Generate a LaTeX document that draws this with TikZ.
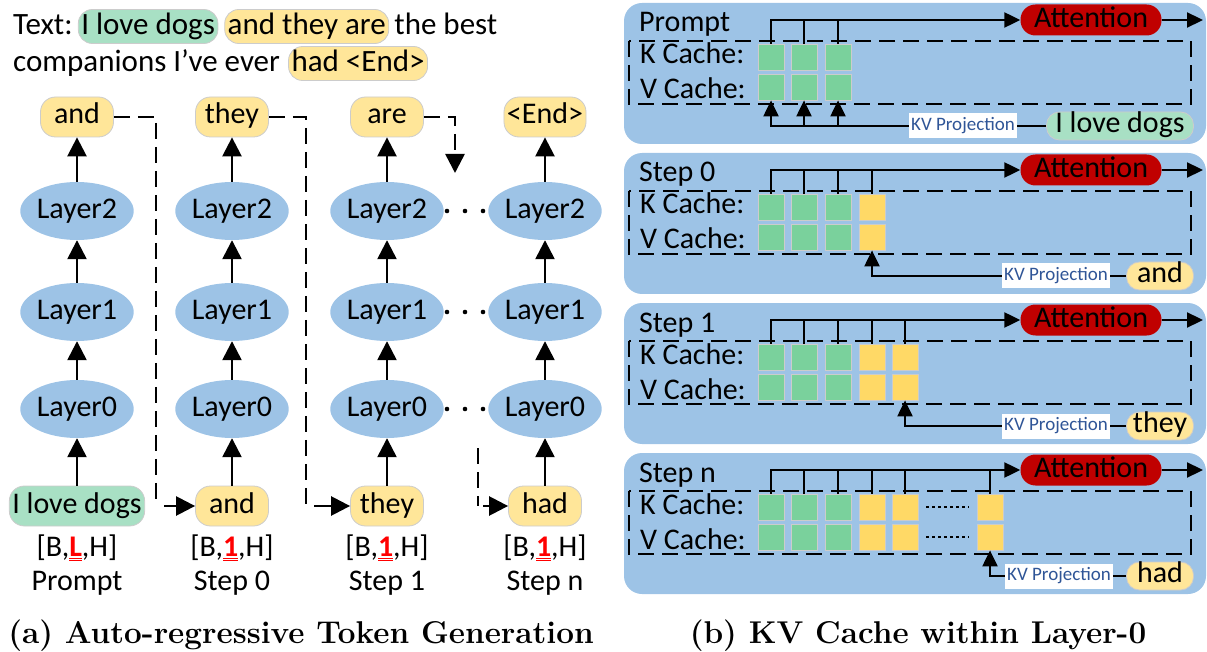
\documentclass[tikz,border=0pt]{standalone}
\usepackage{fontspec}
\newfontfamily\carlito{Carlito}
\usepackage{xcolor}
\usepackage{tikz}
\usetikzlibrary{arrows.meta, positioning, shapes.geometric}

\definecolor{layerblue}{RGB}{157,195,230}
\definecolor{tokyellow}{RGB}{255,230,153}
\definecolor{tokgreen}{RGB}{168,224,196}
\definecolor{sqgreen}{RGB}{122,209,156}
\definecolor{sqyellow}{RGB}{255,217,102}
\definecolor{attred}{RGB}{192,0,0}
\definecolor{kvblue}{RGB}{47,85,151}

\newcommand\redmark[1]{\textcolor{red}{\underline{\underline{\textbf{#1}}}}}

\begin{document}
\begin{tikzpicture}[
    x=1pt, y=-1pt,
    font=\carlito\fontsize{30}{36}\selectfont,
    txtline/.style={inner sep=0pt, font=\carlito\fontsize{31}{37}\selectfont},
    hl/.style={txtline, draw=black!20, line width=0.8pt, fill=tokyellow, rounded corners=14pt, inner xsep=3pt, inner ysep=2.5pt, text height=23pt, text depth=6pt},
    token/.style={draw=black!20, line width=0.8pt, fill=tokyellow, rounded corners=15pt, minimum width=73pt, minimum height=40pt, inner xsep=3pt, inner ysep=0pt, text height=20pt, text depth=6pt},
    greentok/.style={token, fill=tokgreen},
    layer/.style={ellipse, fill=layerblue, minimum width=103pt, minimum height=58pt, inner sep=0pt},
    arrow/.style={-{Triangle[length=19pt,width=19pt]}, line width=2.5pt},
    dashline/.style={dash pattern=on 16pt off 8pt, line width=2.5pt},
    caption/.style={font=\rmfamily\bfseries\fontsize{31.5}{37}\selectfont, anchor=base},
    panel/.style={fill=layerblue, rounded corners=18pt},
    steplabel/.style={anchor=base west, inner sep=0pt},
    cachelabel/.style={anchor=base west, inner sep=0pt},
    attn/.style={fill=attred, rounded corners=15pt, minimum width=141pt, minimum height=31pt, inner sep=0pt, text height=20pt, text depth=5pt},
    sq/.style={draw=black!20, line width=0.8pt, minimum size=26pt, inner sep=0pt},
    gsq/.style={sq, fill=sqgreen},
    ysq/.style={sq, fill=sqyellow},
    rtok/.style={token, minimum width=67pt, minimum height=28pt, rounded corners=13pt, text height=18pt, text depth=5pt},
    rgtok/.style={rtok, fill=tokgreen, minimum width=147pt},
    kvlabel/.style={fill=white, text=kvblue, font=\carlito\fontsize{19}{22}\selectfont, inner xsep=2pt, inner ysep=3pt, minimum height=25pt},
    bus/.style={line width=2.2pt},
    rarrow/.style={-{Triangle[length=16pt,width=15pt]}, line width=2.2pt},
    dashbox/.style={dash pattern=on 16pt off 8pt, line width=2.2pt},
    dotrow/.style={dash pattern=on 3pt off 3pt, line width=2.2pt}
]
\useasboundingbox (0,0) rectangle (1207,652);

% (a) text line
\node[txtline, anchor=base west] (txt) at (13,35) {Text:};
\node[hl, fill=tokgreen, right=5pt of txt.base east, anchor=base west] (hl1) {I love dogs};
\node[hl, right=6pt of hl1.base east, anchor=base west] (hl2) {and they are};
\node[txtline, right=5pt of hl2.base east, anchor=base west] (txt2) {the best};
\node[txtline, anchor=base west] (txt3) at (13,72) {companions I’ve ever};
\node[hl, right=8pt of txt3.base east, anchor=base west] (hl3) {had <End>};

% (a) columns
\foreach \c/\x/\up/\down/\bs/\dm/\st in {0/77/and/I love dogs/greentok/L/Prompt,
        1/232/they/and/token/1/Step 0, 2/387/are/they/token/1/Step 1, 3/545/<End>/had/token/1/Step n} {
    \node[token] (out\c) at (\x,117) {\up};
    \node[layer] (ltwo\c) at (\x,211) {Layer2};
    \node[layer] (lone\c) at (\x,312) {Layer1};
    \node[layer] (lzero\c) at (\x,409) {Layer0};
    \node[style=\bs] (in\c) at (\x,506) {\down};
    \node (dim\c) at (\x,548) {[B,\redmark{\dm},H]};
    \node (st\c) at (\x,583) {\st};
    \draw[arrow] (in\c) -- (lzero\c);
    \draw[arrow] (lzero\c) -- (lone\c);
    \draw[arrow] (lone\c) -- (ltwo\c);
    \draw[arrow] (ltwo\c) -- (out\c);
}
\foreach \y in {211,312,409}
    \foreach \x in {447,465,483}
        \fill (\x,\y) circle (2.3pt);

% feedback of generated tokens
\coordinate (fa) at (156,506);
\coordinate (fb) at (306,506);
\coordinate (fc) at (455,173);
\coordinate (fd) at (478,448);
\coordinate (fe) at (478,506);
\draw[dashline] (out0.east) -| (fa);
\draw[arrow] ([xshift=8pt]fa) -- (in1.west);
\draw[dashline] (out1.east) -| (fb);
\draw[arrow] ([xshift=8pt]fb) -- (in2.west);
\draw[dashline, -{Triangle[length=19pt,width=19pt]}] (out2.east) -| (fc);
\draw[dashline] (fd) -- (fe);
\draw[arrow] ([xshift=5pt]fe) -- (in3.west);

\node[caption] (capa) at (301,643) {(a) Auto-regressive Token Generation};

% (b) Prompt
\fill[panel] (624,3) rectangle (1206,144);
\node[steplabel] (s0) at (639,32) {Prompt};
\node[attn] (att0) at (1091,20) {Attention};
\coordinate (o0) at (1203,20);
\draw[rarrow] (att0) -- (o0);
\draw[dashbox] (629,41) rectangle (1191,104);
\node[cachelabel] (kc0) at (640,64) {K Cache:};
\node[cachelabel] (vc0) at (640,99) {V Cache:};
\foreach \x [count=\j] in {771,804,838} {
    \node[gsq] (k0\j) at (\x,57) {};
    \node[gsq] (v0\j) at (\x,87) {};
    \draw[bus] (k0\j.north) -- (k0\j.north |- att0.west);
}
\draw[rarrow] (k01.north) |- (att0.west);
\node[rgtok] (tok0) at (1120,126) {I love dogs};
\node[kvlabel] (kv0) at (963,126) {KV Projection};
\draw[bus] (tok0) -- (kv0);
\draw[rarrow] (kv0.west) -| (v01.south);
\draw[rarrow] (v02.south |- kv0.west) -- (v02.south);
\draw[rarrow] (v03.south |- kv0.west) -- (v03.south);

% (b) Step 0
\begin{scope}[yshift=-150pt]
\fill[panel] (624,3) rectangle (1206,144);
\node[steplabel] (s1) at (639,32) {Step 0};
\node[attn] (att1) at (1091,20) {Attention};
\coordinate (o1) at (1203,20);
\draw[rarrow] (att1) -- (o1);
\draw[dashbox] (629,41) rectangle (1191,104);
\node[cachelabel] (kc1) at (640,64) {K Cache:};
\node[cachelabel] (vc1) at (640,99) {V Cache:};
\foreach \x/\f [count=\j] in {771/gsq,804/gsq,838/gsq,872/ysq} {
    \node[style=\f] (k1\j) at (\x,57) {};
    \node[style=\f] (v1\j) at (\x,87) {};
    \draw[bus] (k1\j.north) -- (k1\j.north |- att1.west);
}
\draw[rarrow] (k11.north) |- (att1.west);
\node[rtok] (tok1) at (1160,126) {and};
\node[kvlabel] (kv1) at (1056,126) {KV Projection};
\draw[bus] (tok1) -- (kv1);
\draw[rarrow] (kv1.west) -| (v14.south);
\end{scope}

% (b) Step 1
\begin{scope}[yshift=-300pt]
\fill[panel] (624,3) rectangle (1206,144);
\node[steplabel] (s2) at (639,32) {Step 1};
\node[attn] (att2) at (1091,20) {Attention};
\coordinate (o2) at (1203,20);
\draw[rarrow] (att2) -- (o2);
\draw[dashbox] (629,41) rectangle (1191,104);
\node[cachelabel] (kc2) at (640,64) {K Cache:};
\node[cachelabel] (vc2) at (640,99) {V Cache:};
\foreach \x/\f [count=\j] in {771/gsq,804/gsq,838/gsq,872/ysq,905/ysq} {
    \node[style=\f] (k2\j) at (\x,57) {};
    \node[style=\f] (v2\j) at (\x,87) {};
    \draw[bus] (k2\j.north) -- (k2\j.north |- att2.west);
}
\draw[rarrow] (k21.north) |- (att2.west);
\node[rtok] (tok2) at (1160,126) {they};
\node[kvlabel] (kv2) at (1056,126) {KV Projection};
\draw[bus] (tok2) -- (kv2);
\draw[rarrow] (kv2.west) -| (v25.south);
\end{scope}

% (b) Step n
\begin{scope}[yshift=-450pt]
\fill[panel] (624,3) rectangle (1206,144);
\node[steplabel] (s3) at (639,32) {Step n};
\node[attn] (att3) at (1091,20) {Attention};
\coordinate (o3) at (1203,20);
\draw[rarrow] (att3) -- (o3);
\draw[dashbox] (629,41) rectangle (1191,104);
\node[cachelabel] (kc3) at (640,64) {K Cache:};
\node[cachelabel] (vc3) at (640,99) {V Cache:};
\foreach \x/\f [count=\j] in {771/gsq,804/gsq,838/gsq,872/ysq,905/ysq,990/ysq} {
    \node[style=\f] (k3\j) at (\x,57) {};
    \node[style=\f] (v3\j) at (\x,87) {};
    \draw[bus] (k3\j.north) -- (k3\j.north |- att3.west);
}
\draw[rarrow] (k31.north) |- (att3.west);
\draw[dotrow] ([xshift=8pt]k35.east) -- ([xshift=-8pt]k36.west);
\draw[dotrow] ([xshift=8pt]v35.east) -- ([xshift=-8pt]v36.west);
\node[rtok] (tok3) at (1160,126) {had};
\node[kvlabel] (kv3) at (1059,126) {KV Projection};
\draw[bus] (tok3) -- (kv3);
\draw[rarrow] (kv3.west) -| (v36.south);
\end{scope}

\node[caption] (capb) at (918,643) {(b) KV Cache within Layer-0};
\end{tikzpicture}
\end{document}
